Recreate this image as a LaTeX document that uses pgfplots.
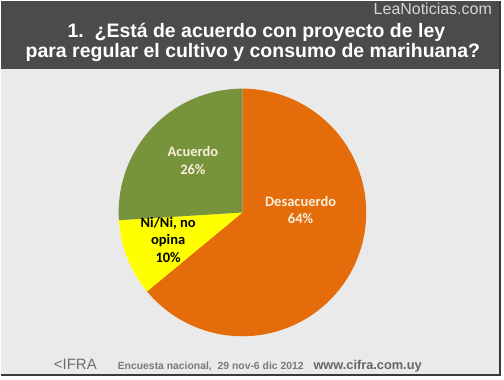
\documentclass[border=0pt]{standalone}
\usepackage{pgfplots}
\usepackage{pgfplotstable}
\pgfplotsset{compat=1.18}
\usepackage{fontspec}
\setmainfont{Liberation Sans}
\newfontfamily\carlito{Carlito}
\definecolor{bgpanel}{HTML}{EAEAEA}
\definecolor{header}{HTML}{4B4B4B}
\definecolor{frame}{HTML}{3A3A3A}
\definecolor{cOrange}{HTML}{E46C0A}
\definecolor{cGreen}{HTML}{77933C}
\definecolor{cYellow}{HTML}{FFFF00}
\definecolor{cream}{HTML}{F8F0DC}
\definecolor{foot}{HTML}{7A7A7A}
\definecolor{footdark}{HTML}{666666}
\pgfplotstableread{
label value
Desacuerdo 64
NiNi 10
Acuerdo 26
}\piedata
\begin{document}
\begin{tikzpicture}[x=1pt,y=1pt]
\pgfplotstablegetelem{0}{value}\of\piedata \let\vDes\pgfplotsretval
\pgfplotstablegetelem{1}{value}\of\piedata \let\vNi\pgfplotsretval
\pgfplotstablegetelem{2}{value}\of\piedata \let\vAc\pgfplotsretval
\pgfmathsetmacro\aA{90}
\pgfmathsetmacro\aB{90-3.6*\vDes}
\pgfmathsetmacro\aC{\aB-3.6*\vNi}
\pgfmathsetmacro\aD{\aC-3.6*\vAc}
% canvas
\fill[white] (0,0) rectangle (504,379);
\fill[bgpanel] (0,4) rectangle (500,379);
\fill[header] (0,311) rectangle (500,379);
\draw[frame, line width=1.6pt] (0,4) -- (500,4) -- (500,379);
% titles
\node[anchor=base, text=white, font=\bfseries\fontsize{19.5}{22}\selectfont] at (256,342) {1.\ \ ¿Está de acuerdo con proyecto de ley};
\node[anchor=base, text=white, font=\bfseries\fontsize{19.5}{22}\selectfont] at (252.5,322) {para regular el cultivo y consumo de marihuana?};
\node[anchor=base east, text=black!16, font=\fontsize{16}{18}\selectfont, inner sep=0pt] at (492,365) {LeaNoticias.com};
% pie
\begin{axis}[
  at={(242pt,167pt)}, anchor=center,
  scale only axis, width=248pt, height=248pt,
  xmin=-1, xmax=1, ymin=-1, ymax=1,
  hide axis, clip=false,
]
\addplot[fill=cOrange, draw=none, domain=\aB:\aA, samples=120] ({cos(x)},{sin(x)}) -- (axis cs:0,0) -- cycle;
\addplot[fill=cYellow, draw=none, domain=\aC:\aB, samples=40] ({cos(x)},{sin(x)}) -- (axis cs:0,0) -- cycle;
\addplot[fill=cGreen, draw=none, domain=\aD:\aC, samples=80] ({cos(x)},{sin(x)}) -- (axis cs:0,0) -- cycle;
\node[align=center, text=cream, font=\carlito\bfseries\fontsize{14.5}{18}\selectfont] at (axis cs:0.47,0.02) {Desacuerdo\\\vDes\%};
\node[align=center, text=cream, font=\carlito\bfseries\fontsize{14.5}{18}\selectfont] at (axis cs:-0.40,0.42) {Acuerdo\\\vAc\%};
\node[align=center, text=black, font=\carlito\bfseries\fontsize{14.5}{17.5}\selectfont] at (axis cs:-0.60,-0.22) {Ni/Ni, no\\opina\\\vNi\%};
\end{axis}
% footer
\node[anchor=base west, inner sep=0pt, text=foot!90!black, font=\fontsize{15}{15}\selectfont] at (53,10) {<IFRA};
\node[anchor=base west, inner sep=0pt, text=foot, font=\bfseries\fontsize{10.4}{12}\selectfont] at (117,10) {Encuesta nacional,\ \ 29 nov-6 dic 2012};
\node[anchor=base west, inner sep=0pt, text=footdark, font=\bfseries\fontsize{12.8}{14}\selectfont] at (313,10) {www.cifra.com.uy};
\end{tikzpicture}
\end{document}
